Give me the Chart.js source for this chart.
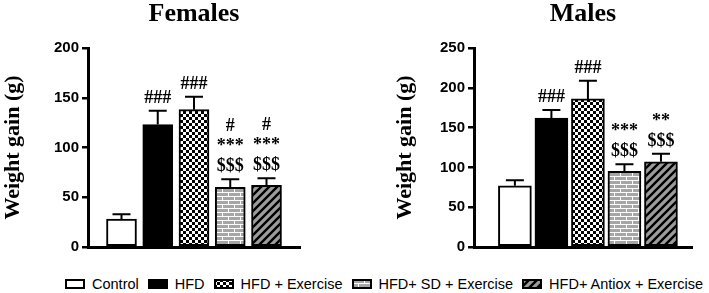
<!DOCTYPE html>
<html>
<head>
<meta charset="utf-8">
<script src="https://cdn.jsdelivr.net/npm/chart.js@4"></script>
<style>
  html, body { margin: 0; padding: 0; background: #fff; }
  body { width: 709px; height: 293px; position: relative; overflow: hidden; }
  #boxF { position: absolute; left: 0; top: 0; width: 350px; height: 262px; }
  #boxM { position: absolute; left: 350px; top: 0; width: 359px; height: 262px; }
  #legend {
    position: absolute; left: 65px; top: 276px; height: 16px;
    display: flex; align-items: center;
    font-family: 'Liberation Sans', Arial, sans-serif; font-size: 14.5px; color: #000;
  }
  .item { display: flex; align-items: center; margin-right: 9px; white-space: nowrap; }
  .item canvas { margin-right: 7px; }
</style>
</head>
<body>
<div id="boxF"><canvas id="chartF"></canvas></div>
<div id="boxM"><canvas id="chartM"></canvas></div>
<div id="legend"></div>
<script>
'use strict';

// Gruppen und Werte
const groups = ['Control', 'HFD', 'HFD + Exercise', 'HFD+ SD + Exercise', 'HFD+ Antiox + Exercise'];

const femaleMean = [28, 123, 138, 60, 62];
const femaleUpper = [33, 137, 151, 68, 69];
const femaleSig = [[], ['###'], ['###'], ['#', '***', '$$$'], ['#', '***', '$$$']];
const femaleTicks = [0, 50, 100, 150, 200];

const maleMean = [77, 162, 186, 95, 107];
const maleUpper = [84, 172, 209, 104, 117];
const maleSig = [[], ['###'], ['###'], ['***', '$$$'], ['**', '$$$']];
const maleTicks = [0, 50, 100, 150, 200, 250];

// Muster für die Balken
const patternKinds = ['white', 'black', 'checker', 'brick', 'stripes'];

function makeTile(kind) {
  const c = document.createElement('canvas');
  const g = c.getContext('2d');
  if (kind === 'checker') {
    c.width = 6; c.height = 6;
    g.fillStyle = '#fff'; g.fillRect(0, 0, 6, 6);
    g.fillStyle = '#000'; g.fillRect(0, 0, 3, 3); g.fillRect(3, 3, 3, 3);
  } else if (kind === 'brick') {
    c.width = 12; c.height = 8;
    g.fillStyle = '#a6a6a6'; g.fillRect(0, 0, 12, 8);
    g.fillStyle = '#fff';
    g.fillRect(0, 0, 12, 1); g.fillRect(0, 4, 12, 1);
    g.fillRect(0, 0, 1, 4); g.fillRect(6, 4, 1, 4);
  } else if (kind === 'stripes') {
    c.width = 8; c.height = 8;
    g.fillStyle = '#9c9c9c'; g.fillRect(0, 0, 8, 8);
    g.strokeStyle = '#000'; g.lineWidth = 2.4;
    g.beginPath();
    g.moveTo(-2, 2); g.lineTo(2, -2);
    g.moveTo(0, 8); g.lineTo(8, 0);
    g.moveTo(6, 10); g.lineTo(10, 6);
    g.stroke();
  }
  return c;
}

function fillFor(ctx, kind) {
  if (kind === 'white') return '#fff';
  if (kind === 'black') return '#000';
  return ctx.createPattern(makeTile(kind), 'repeat');
}

// Fehlerbalken und Signifikanz-Zeichen über die Skalen zeichnen
const errorPlugin = {
  id: 'errorBars',
  afterDatasetsDraw(chart, args, opts) {
    const ctx = chart.ctx;
    const yScale = chart.scales.y;
    const meta = chart.getDatasetMeta(0);
    ctx.save();
    meta.data.forEach((bar, i) => {
      const yTop = yScale.getPixelForValue(opts.upper[i]);
      ctx.strokeStyle = '#000';
      ctx.lineWidth = 2;
      ctx.beginPath();
      ctx.moveTo(bar.x, bar.y);
      ctx.lineTo(bar.x, yTop);
      ctx.moveTo(bar.x - 9, yTop);
      ctx.lineTo(bar.x + 9, yTop);
      ctx.stroke();

      const lines = opts.sig[i];
      ctx.fillStyle = '#000';
      ctx.font = 'bold 18px "Liberation Serif", "Times New Roman", serif';
      ctx.textAlign = 'center';
      ctx.textBaseline = 'alphabetic';
      for (let k = 0; k < lines.length; k++) {
        const fromBottom = lines.length - 1 - k;
        ctx.fillText(lines[k], bar.x, yTop - 8 - fromBottom * 20);
      }
    });
    ctx.restore();
  }
};

function buildChart(canvasId, opts) {
  const canvas = document.getElementById(canvasId);
  const ctx = canvas.getContext('2d');
  return new Chart(canvas, {
    type: 'bar',
    data: {
      datasets: [{
        label: opts.title,
        data: opts.mean.map((v, i) => ({ x: i, y: v })),
        backgroundColor: patternKinds.map(k => fillFor(ctx, k)),
        borderColor: '#000',
        borderWidth: 2,
        borderSkipped: false,
        barThickness: opts.barThickness,
      }]
    },
    options: {
      responsive: true,
      maintainAspectRatio: false,
      animation: false,
      layout: { padding: opts.padding },
      plugins: {
        legend: { display: false },
        tooltip: { enabled: false },
        title: {
          display: true,
          text: opts.title,
          color: '#000',
          fullSize: false,
          font: { family: '"Liberation Serif", "Times New Roman", serif', weight: 'bold', size: 26, lineHeight: 1 },
          padding: { top: 1, bottom: 21 },
        },
        errorBars: { upper: opts.upper, sig: opts.sig },
      },
      scales: {
        x: {
          type: 'linear',
          offset: false,
          min: opts.xMin,
          max: opts.xMax,
          ticks: { display: false },
          grid: { display: true, drawOnChartArea: false, drawTicks: false, offset: false },
          border: { display: true, color: '#000', width: 3 },
          afterFit(s) { s.height = 0; },
        },
        y: {
          min: 0,
          max: opts.ticks[opts.ticks.length - 1],
          afterBuildTicks(s) { s.ticks = opts.ticks.map(v => ({ value: v })); },
          ticks: {
            color: '#000',
            padding: 3,
            font: { family: '"Liberation Sans", Arial, sans-serif', weight: 'bold', size: 15 },
          },
          grid: { drawOnChartArea: false, drawTicks: true, tickLength: 6, color: '#000', lineWidth: 2.5 },
          border: { display: true, color: '#000', width: 3 },
          title: {
            display: true,
            text: 'Weight gain (g)',
            color: '#000',
            font: { family: '"Liberation Serif", "Times New Roman", serif', weight: 'bold', size: 22 },
            padding: { top: 0, bottom: 0 },
          },
          afterFit(s) { s.width = opts.yWidth; },
        }
      }
    },
    plugins: [errorPlugin]
  });
}

buildChart('chartF', {
  title: 'Females',
  mean: femaleMean, upper: femaleUpper, sig: femaleSig, ticks: femaleTicks,
  xMin: -0.924, xMax: 4.924, barThickness: 30,
  padding: { left: 0, right: 50, top: 0, bottom: 15 },
  yWidth: 88,
});

buildChart('chartM', {
  title: 'Males',
  mean: maleMean, upper: maleUpper, sig: maleSig, ticks: maleTicks,
  xMin: -1.12, xMax: 4.85, barThickness: 33,
  padding: { left: 42, right: 17, top: 0, bottom: 15 },
  yWidth: 82,
});

// Legende mit denselben Mustern
const legendEl = document.getElementById('legend');
groups.forEach((name, i) => {
  const item = document.createElement('div');
  item.className = 'item';
  const sw = document.createElement('canvas');
  sw.width = 20; sw.height = 10;
  const g = sw.getContext('2d');
  g.fillStyle = fillFor(g, patternKinds[i]);
  g.fillRect(0, 0, 20, 10);
  g.strokeStyle = '#000';
  g.lineWidth = 2;
  g.strokeRect(1, 1, 18, 8);
  const label = document.createElement('span');
  label.textContent = name;
  item.appendChild(sw);
  item.appendChild(label);
  legendEl.appendChild(item);
});
</script>
</body>
</html>
